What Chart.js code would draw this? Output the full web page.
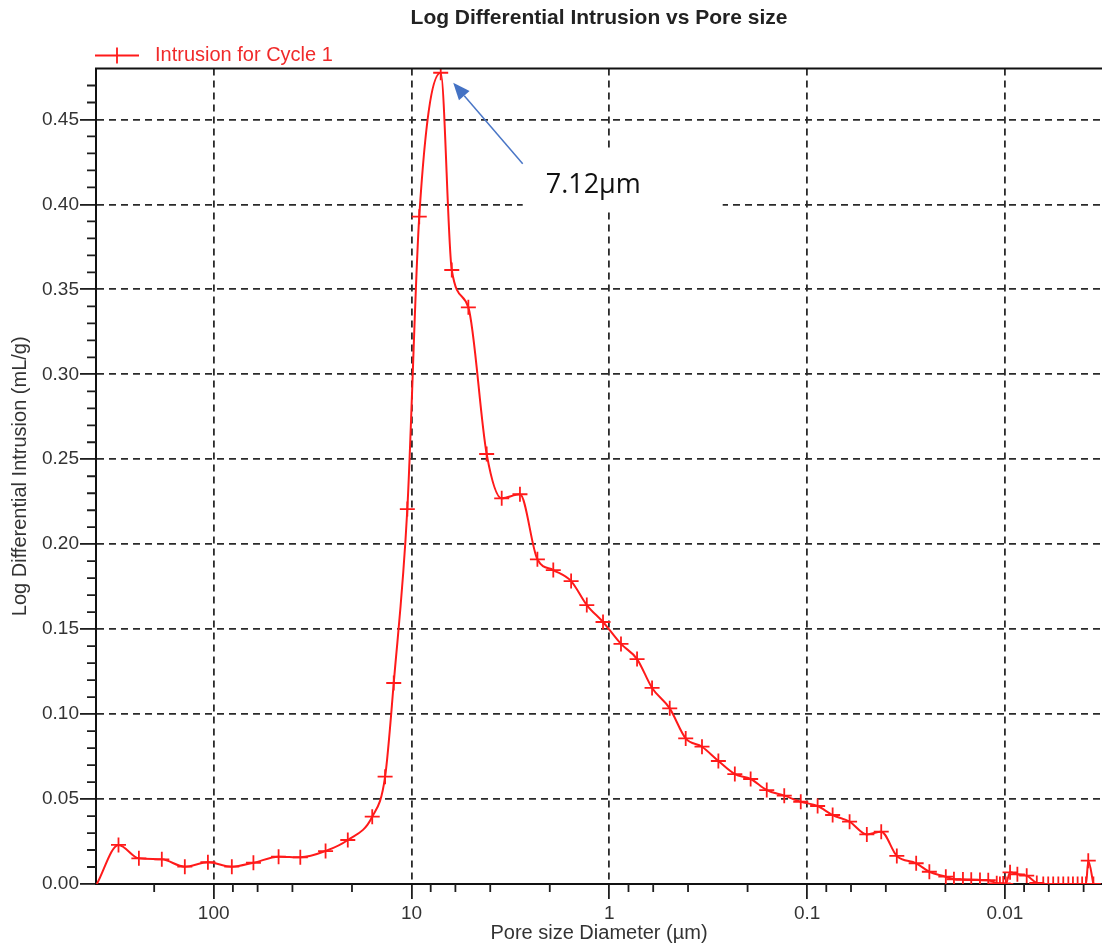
<!DOCTYPE html>
<html>
<head>
<meta charset="utf-8">
<title>Log Differential Intrusion vs Pore size</title>
<script src="https://cdn.jsdelivr.net/npm/chart.js@4.4.1/dist/chart.umd.min.js"></script>
<style>
	html, body { margin: 0; padding: 0; background: #fff; overflow: hidden; }
	#wrap { width: 1102px; height: 945px; position: relative; overflow: hidden; }
	#wrap canvas { display: block; }
</style>
</head>
<body>
<div id="wrap"><canvas id="intrusion-chart"></canvas></div>
<script>
// Pore diameter (µm) and log differential intrusion (mL/g), cycle 1
const poreSize = [
	390, 303, 239, 183, 140, 107, 81, 63, 47, 36.5, 27.2, 21, 15.8, 13.6, 12.3, 10.5, 9.14, 7.12,
	6.26, 5.16, 4.17, 3.5, 2.83, 2.31, 1.92, 1.56, 1.3, 1.076, 0.873, 0.724, 0.608, 0.495, 0.411,
	0.34, 0.281, 0.232, 0.193, 0.16, 0.1305, 0.1077, 0.0885, 0.0743, 0.061, 0.0499, 0.0422, 0.0352,
	0.0281, 0.0241, 0.0199, 0.0181, 0.0163, 0.0148, 0.01337, 0.01214, 0.011, 0.0106, 0.0102, 0.0099,
	0.00942, 0.00865, 0.00776, 0.0069, 0.0064, 0.00604, 0.0057, 0.00537, 0.00507, 0.00478, 0.00453,
	0.00429, 0.00407, 0.00389, 0.00379, 0.00357,
];
const logDiffIntrusion = [
	0, 0.023, 0.0151, 0.0145, 0.0102, 0.0128, 0.0102, 0.0125, 0.0161, 0.0157, 0.0194, 0.0259, 0.0396,
	0.0632, 0.1183, 0.2207, 0.3928, 0.4775, 0.3614, 0.3394, 0.2531, 0.227, 0.2294, 0.1911, 0.1848,
	0.1783, 0.1642, 0.1542, 0.1413, 0.1324, 0.1154, 0.1034, 0.0857, 0.0808, 0.0724, 0.0647, 0.0618,
	0.0553, 0.052, 0.0484, 0.0459, 0.0406, 0.0367, 0.0292, 0.0308, 0.0165, 0.0122, 0.0072, 0.0043,
	0.0028, 0.0026, 0.0025, 0.0024, 0.0022, 0.0004, 0, 0.0003, 0, 0.0069, 0.0057, 0.0049, 0.0006,
	0, 0, 0, 0, 0, 0, 0, 0, 0, 0, 0.0137, 0,
];

const xMajorTicks = [100, 10, 1, 0.1, 0.01];
const xMinorTicks = [200, 80, 60, 40, 20, 8, 6, 4, 2, 0.8, 0.6, 0.4, 0.2, 0.08, 0.06, 0.04, 0.02, 0.008, 0.006, 0.004];
const yMajorTicks = [0, 0.05, 0.1, 0.15, 0.2, 0.25, 0.3, 0.35, 0.4, 0.45];
const yMinorTicks = [
	0.01, 0.02, 0.03, 0.04, 0.06, 0.07, 0.08, 0.09, 0.11, 0.12, 0.13, 0.14, 0.16, 0.17, 0.18, 0.19,
	0.21, 0.22, 0.23, 0.24, 0.26, 0.27, 0.28, 0.29, 0.31, 0.32, 0.33, 0.34, 0.36, 0.37, 0.38, 0.39,
	0.41, 0.42, 0.43, 0.44, 0.46, 0.47,
];

const X_MAX = 393.7;
const X_MIN = 0.00323;
const Y_MAX = 0.48;

const FONT = "'Liberation Sans', Arial, sans-serif";
const RED = "#ff1a1a";
const AXIS_INK = "#1e1e1e";
const GRID_INK = "#2a2a2a";

// short tick marks between the labelled ones, plus the top frame line
const axisDetail = {
	id: "axisDetail",
	afterDraw(chart) {
		const { ctx, chartArea: a, scales } = chart;
		ctx.save();
		ctx.strokeStyle = AXIS_INK;
		ctx.lineWidth = 1.8;
		ctx.beginPath();
		xMinorTicks.forEach((v) => {
			const px = scales.x.getPixelForValue(v);
			if (px < a.left || px > a.right) return;
			ctx.moveTo(px, a.bottom);
			ctx.lineTo(px, a.bottom + 8);
		});
		yMinorTicks.forEach((v) => {
			const py = scales.y.getPixelForValue(v);
			ctx.moveTo(a.left - 9, py);
			ctx.lineTo(a.left, py);
		});
		ctx.stroke();

		ctx.strokeStyle = "#111";
		ctx.lineWidth = 2;
		ctx.beginPath();
		ctx.moveTo(a.left - 1, a.top);
		ctx.lineTo(a.right, a.top);
		ctx.stroke();
		ctx.restore();
	},
};

// legend entry: line with a cross, then the series name
const legendSwatch = {
	id: "legendSwatch",
	afterDraw(chart) {
		const { ctx, chartArea: a } = chart;
		const ds = chart.data.datasets[0];
		const cy = a.top - 13;
		const x0 = a.left - 1;
		ctx.save();
		ctx.strokeStyle = ds.borderColor;
		ctx.lineWidth = 1.8;
		ctx.beginPath();
		ctx.moveTo(x0, cy);
		ctx.lineTo(x0 + 44, cy);
		ctx.moveTo(x0 + 22, cy - 8);
		ctx.lineTo(x0 + 22, cy + 8);
		ctx.stroke();
		ctx.fillStyle = "#f02a2a";
		ctx.font = `20px ${FONT}`;
		ctx.textBaseline = "middle";
		ctx.fillText(ds.label, x0 + 60, cy);
		ctx.restore();
	},
};

// callout arrow pointing at the peak diameter
const peakNote = {
	id: "peakNote",
	afterDraw(chart) {
		const { ctx, scales } = chart;
		let k = 0;
		logDiffIntrusion.forEach((v, i) => {
			if (v > logDiffIntrusion[k]) k = i;
		});
		const px = scales.x.getPixelForValue(poreSize[k]);
		const py = scales.y.getPixelForValue(logDiffIntrusion[k]);

		ctx.save();
		ctx.fillStyle = "#fff";
		ctx.fillRect(px + 82, py + 77, 200, 62);

		const tail = { x: px + 82, y: py + 91 };
		const tip = { x: px + 12.5, y: py + 10 };
		const ang = Math.atan2(tip.y - tail.y, tip.x - tail.x);
		const head = 17;
		const half = 7;
		const bx = tip.x - head * Math.cos(ang);
		const by = tip.y - head * Math.sin(ang);
		ctx.strokeStyle = "#4a76c6";
		ctx.lineWidth = 1.5;
		ctx.beginPath();
		ctx.moveTo(tail.x, tail.y);
		ctx.lineTo(bx, by);
		ctx.stroke();
		ctx.fillStyle = "#4472c4";
		ctx.beginPath();
		ctx.moveTo(tip.x, tip.y);
		ctx.lineTo(bx + half * Math.sin(ang), by - half * Math.cos(ang));
		ctx.lineTo(bx - half * Math.sin(ang), by + half * Math.cos(ang));
		ctx.closePath();
		ctx.fill();

		ctx.fillStyle = "#111";
		ctx.font = "27px 'Open Sans', sans-serif";
		ctx.textBaseline = "alphabetic";
		ctx.fillText(`${poreSize[k].toFixed(2)}µm`, px + 105, py + 120);
		ctx.restore();
	},
};

new Chart(document.getElementById("intrusion-chart"), {
	type: "line",
	data: {
		datasets: [
			{
				label: "Intrusion for Cycle 1",
				data: poreSize.map((x, i) => ({ x, y: logDiffIntrusion[i] })),
				borderColor: RED,
				backgroundColor: RED,
				borderWidth: 2,
				pointStyle: "cross",
				pointRadius: (ctx) => (ctx.dataIndex === 0 ? 0 : 7.5),
				pointBorderWidth: 1.8,
				pointBorderColor: RED,
				cubicInterpolationMode: "monotone",
				fill: false,
			},
		],
	},
	options: {
		responsive: true,
		maintainAspectRatio: false,
		animation: false,
		layout: { padding: 0, autoPadding: false },
		plugins: {
			legend: { display: false },
			tooltip: { enabled: false },
			title: {
				display: true,
				text: "Log Differential Intrusion vs Pore size",
				fullSize: false,
				color: "#222",
				font: { family: FONT, size: 21, weight: "bold" },
				padding: { top: 6, bottom: 37.3 },
			},
		},
		scales: {
			x: {
				type: "logarithmic",
				reverse: true,
				min: X_MIN,
				max: X_MAX,
				afterBuildTicks: (scale) => {
					scale.ticks = xMajorTicks.map((v) => ({ value: v }));
				},
				afterFit: (scale) => {
					scale.height = 61;
				},
				ticks: {
					callback: (v) => String(v),
					color: "#333",
					font: { family: FONT, size: 19 },
					padding: 3,
					autoSkip: false,
					maxRotation: 0,
				},
				grid: { color: GRID_INK, lineWidth: 1.8, tickLength: 15, tickColor: AXIS_INK, tickWidth: 1.8 },
				border: { display: true, color: "#111", width: 2, dash: [7, 5] },
				title: {
					display: true,
					text: "Pore size Diameter (µm)",
					color: "#333",
					font: { family: FONT, size: 20 },
					padding: 0,
				},
			},
			y: {
				type: "linear",
				min: 0,
				max: Y_MAX,
				afterBuildTicks: (scale) => {
					scale.ticks = yMajorTicks.map((v) => ({ value: v }));
				},
				afterFit: (scale) => {
					scale.width = 96;
				},
				ticks: {
					callback: (v) => v.toFixed(2),
					color: "#333",
					font: { family: FONT, size: 19 },
					padding: 1,
				},
				grid: { color: GRID_INK, lineWidth: 1.8, tickLength: 16, tickColor: AXIS_INK, tickWidth: 1.8 },
				border: { display: true, color: "#111", width: 2, dash: [7, 5] },
				title: {
					display: true,
					text: "Log Differential Intrusion (mL/g)",
					color: "#333",
					font: { family: FONT, size: 20 },
					padding: { top: 8, bottom: 0 },
				},
			},
		},
	},
	plugins: [axisDetail, legendSwatch, peakNote],
});
</script>
</body>
</html>
